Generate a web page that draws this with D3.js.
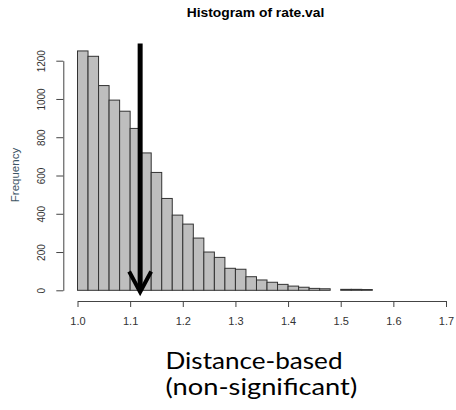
<!DOCTYPE html>
<html>
<head>
<meta charset="utf-8">
<script src="https://cdn.jsdelivr.net/npm/d3@7"></script>
<style>
  body { margin: 0; background: #fff; }
  svg { display: block; }
</style>
</head>
<body>
<div id="chart"></div>
<script>
// Histogram of rate.val, bins of width 0.02 from 1.00 to 1.68

const breaks = [1.00, 1.02, 1.04, 1.06, 1.08, 1.10, 1.12, 1.14, 1.16, 1.18,
                1.20, 1.22, 1.24, 1.26, 1.28, 1.30, 1.32, 1.34, 1.36, 1.38,
                1.40, 1.42, 1.44, 1.46, 1.48, 1.50, 1.52, 1.54, 1.56, 1.58,
                1.60, 1.62, 1.64, 1.66, 1.68];
const counts = [1251, 1223, 1070, 994, 936, 846, 718, 616, 480, 393,
                346, 273, 200, 172, 115, 110, 71, 54, 42, 31,
                22, 16, 10, 8, 0, 5, 5, 4, 0, 0,
                0, 0, 0, 0];
const xTicks = [1.0, 1.1, 1.2, 1.3, 1.4, 1.5, 1.6, 1.7];
const yTicks = [0, 200, 400, 600, 800, 1000, 1200];

// the annotation arrow (in data units)
const arrowAt = 1.119;
const arrowFrom = 1290;
const arrowTo = -9;

const titleText = "Histogram of rate.val";
const yLabel = "Frequency";
const captionLines = ["Distance-based", "(non-significant)"];

const w = 456;
const h = 410;

const svg = d3.select("#chart")
  .append("svg")
  .attr("width", w)
  .attr("height", h);

const x = d3.scaleLinear()
  .domain([1.0, 1.7])
  .range([77.5, 446]);

const y = d3.scaleLinear()
  .domain([0, 1200])
  .range([290.3, 60.7]);

const bins = counts.map((c, i) => ({ x0: breaks[i], x1: breaks[i + 1], n: c }));

svg.append("g")
  .selectAll("rect")
  .data(bins)
  .enter()
  .append("rect")
  .attr("x", d => x(d.x0))
  .attr("width", d => x(d.x1) - x(d.x0))
  .attr("y", d => y(d.n))
  .attr("height", d => y(0) - y(d.n))
  .attr("fill", "#bebebe")
  .attr("stroke", "#333")
  .attr("stroke-width", 1);

// x axis
const xAxis = d3.axisBottom(x)
  .tickValues(xTicks)
  .tickFormat(d3.format(".1f"))
  .tickSizeInner(6)
  .tickSizeOuter(0)
  .tickPadding(10);

const gx = svg.append("g")
  .attr("transform", "translate(0,301)")
  .call(xAxis);
gx.selectAll("path, line").attr("stroke", "#444");
gx.selectAll("text")
  .attr("fill", "#333")
  .style("font-family", "Liberation Sans")
  .style("font-size", "11px");

// y axis, labels rotated like R's default
const yAxis = d3.axisLeft(y)
  .tickValues(yTicks)
  .tickFormat(d3.format("d"))
  .tickSizeInner(7)
  .tickSizeOuter(0);

const gy = svg.append("g")
  .attr("transform", "translate(63.3,0)")
  .call(yAxis);
gy.selectAll("path, line").attr("stroke", "#444");
gy.selectAll("text")
  .attr("transform", "rotate(-90)")
  .attr("x", 0)
  .attr("y", -18)
  .attr("dy", 0)
  .attr("text-anchor", "middle")
  .attr("fill", "#333")
  .style("font-family", "Liberation Sans")
  .style("font-size", "10px");

svg.append("text")
  .attr("transform", "translate(18.5,175) rotate(-90)")
  .attr("text-anchor", "middle")
  .attr("fill", "#3d5566")
  .style("font-family", "Liberation Sans")
  .style("font-size", "11.5px")
  .text(yLabel);

svg.append("text")
  .attr("x", 186.7)
  .attr("y", 16.5)
  .attr("textLength", 137.6)
  .attr("lengthAdjust", "spacingAndGlyphs")
  .style("font-family", "Liberation Sans")
  .style("font-weight", "bold")
  .style("font-size", "12.5px")
  .text(titleText);

// arrow
svg.append("line")
  .attr("x1", x(arrowAt))
  .attr("x2", x(arrowAt))
  .attr("y1", y(arrowFrom))
  .attr("y2", y(arrowTo) - 3)
  .attr("stroke", "#000")
  .attr("stroke-width", 5);

svg.append("path")
  .attr("d", d3.line()([
    [x(arrowAt) - 11, y(arrowTo) - 20.5],
    [x(arrowAt), y(arrowTo)],
    [x(arrowAt) + 11, y(arrowTo) - 20.5]
  ]))
  .attr("fill", "none")
  .attr("stroke", "#000")
  .attr("stroke-width", 4)
  .attr("stroke-linejoin", "miter");

// caption
const captionWidths = [177, 191.7];
const captionY = [369.3, 395];
svg.selectAll(".caption")
  .data(captionLines)
  .enter()
  .append("text")
  .attr("class", "caption")
  .attr("x", 165.5)
  .attr("y", (d, i) => captionY[i])
  .attr("textLength", (d, i) => captionWidths[i])
  .attr("lengthAdjust", "spacingAndGlyphs")
  .style("font-family", "Lato")
  .style("font-size", "23px")
  .attr("fill", "#000")
  .text(d => d);
</script>
</body>
</html>
